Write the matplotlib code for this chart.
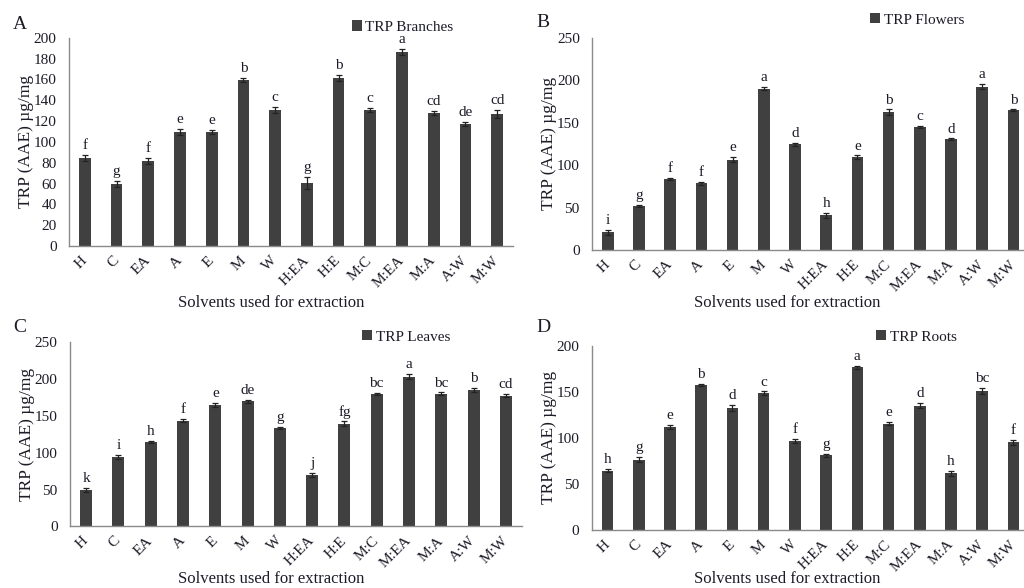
#!/usr/bin/env python3
"""
TRP (AAE) of four plant parts for the different extraction solvents
2 x 2 bar panels A-D
"""

import matplotlib.pyplot as plt
from matplotlib.transforms import ScaledTranslation
import numpy as np

plt.rcParams['font.family'] = ['Liberation Serif', 'DejaVu Serif']

# Data
solvents = ['H', 'C', 'EA', 'A', 'E', 'M', 'W', 'H:EA', 'H:E', 'M:C', 'M:EA', 'M:A', 'A:W', 'M:W']

branches = [84.5, 59.5, 81.5, 109.5, 109.5, 159.5, 130.5, 60.5, 161.5, 130.5, 186.5, 128, 117.5, 126.5]
branches_err = [3, 3, 3, 3, 2, 2, 3, 6, 3, 2, 3, 2, 2, 4]
branches_sig = ['f', 'g', 'f', 'e', 'e', 'b', 'c', 'g', 'b', 'c', 'a', 'cd', 'de', 'cd']

flowers = [21, 52, 84, 78.5, 106.5, 190, 124.5, 41, 109.5, 162.5, 145, 130.5, 192.5, 164.5]
flowers_err = [3, 1.5, 1, 2, 3, 2, 2, 3, 2, 3, 1, 1, 3, 1]
flowers_sig = ['i', 'g', 'f', 'f', 'e', 'a', 'd', 'h', 'e', 'b', 'c', 'd', 'a', 'b']

leaves = [49, 94, 114.5, 143.5, 164.5, 170, 133.5, 70, 139.5, 180, 203.5, 180, 185, 177.5]
leaves_err = [3, 3, 2, 2, 3, 2, 1.5, 3, 3, 1, 4, 2, 3, 2]
leaves_sig = ['k', 'i', 'h', 'f', 'e', 'de', 'g', 'j', 'fg', 'bc', 'a', 'bc', 'b', 'cd']

roots = [64.5, 76.5, 112, 157.5, 132.5, 148.5, 96.5, 81, 176.5, 115.5, 135, 61.5, 151, 95]
roots_err = [2, 2.5, 2, 1, 3, 2, 2, 1.5, 2, 1.5, 3, 2.5, 3, 2.5]
roots_sig = ['h', 'g', 'e', 'b', 'd', 'c', 'f', 'g', 'a', 'e', 'd', 'h', 'bc', 'f']

BAR = '#404040'
TXT = '#1c1c28'
SPINE = '#8a8a8a'

fig = plt.figure(figsize=(10.24, 5.88), dpi=100)
fig.patch.set_facecolor('white')

# (axes rect, values, errors, letters, legend label, ymax, ystep,
#  panel letter pos, legend pos, xlabel centre, panel letter)
panels = [
    ([0.0674, 0.5816, 0.4336, 0.3543], branches, branches_err, branches_sig, 'TRP Branches',
     200, 20, (0.013, 0.958), (0.336, 0.954), (0.265, 0.4847), 'A'),
    ([0.5784, 0.5748, 0.4265, 0.3611], flowers, flowers_err, flowers_sig, 'TRP Flowers',
     250, 50, (0.524, 0.962), (0.842, 0.966), (0.769, 0.4847), 'B'),
    ([0.0684, 0.1049, 0.4414, 0.3130], leaves, leaves_err, leaves_sig, 'TRP Leaves',
     250, 50, (0.013, 0.443), (0.346, 0.427), (0.265, 0.0153), 'C'),
    ([0.5781, 0.0986, 0.4268, 0.3135], roots, roots_err, roots_sig, 'TRP Roots',
     200, 50, (0.524, 0.443), (0.848, 0.427), (0.769, 0.0153), 'D'),
]

x = np.arange(len(solvents))
shift = ScaledTranslation(3 / 100, 0, fig.dpi_scale_trans)

for rect, vals, errs, sig, label, ymax, ystep, lpos, legpos, xlpos, letter in panels:
    ax = fig.add_axes(rect)
    ax.bar(x, vals, width=0.37, color=BAR, label=label, zorder=2)
    ax.errorbar(x, vals, yerr=errs, fmt='none', ecolor='#222222', elinewidth=0.9,
                capsize=2.5, capthick=0.9, zorder=3)

    # significance letters
    for xi, v, e, s in zip(x, vals, errs, sig):
        ax.annotate(s, (xi, v + e), xytext=(0, 2), textcoords='offset points',
                    ha='center', va='bottom', fontsize=11, color=TXT)

    ax.set_xlim(-0.5, len(solvents) - 0.5)
    ax.set_ylim(0, ymax)
    ax.set_yticks(np.arange(0, ymax + 1, ystep))
    ax.set_xticks(x)
    ax.set_xticklabels(solvents, rotation=45, ha='right', va='center',
                       rotation_mode='anchor', fontsize=11, color=TXT)
    for lbl in ax.get_xticklabels():
        lbl.set_transform(lbl.get_transform() + shift)
    ax.tick_params(axis='x', length=0, pad=9)
    ax.tick_params(axis='y', length=0, pad=9, labelsize=11, labelcolor=TXT)
    ax.set_ylabel('TRP (AAE) µg/mg', fontsize=12.5, color=TXT, labelpad=0)

    for side in ['top', 'right']:
        ax.spines[side].set_visible(False)
    for side in ['left', 'bottom']:
        ax.spines[side].set_color(SPINE)
        ax.spines[side].set_linewidth(1.0)

    ax.legend(loc='center left', bbox_to_anchor=legpos, bbox_transform=fig.transFigure,
              frameon=False, fontsize=11, handlelength=0.65, handleheight=0.65,
              handletextpad=0.25, borderpad=0, labelcolor=TXT)

    fig.text(lpos[0], lpos[1], letter, fontsize=14, color=TXT, ha='left', va='center')
    fig.text(xlpos[0], xlpos[1], 'Solvents used for extraction', fontsize=12,
             color=TXT, ha='center', va='center')

plt.savefig('out.png', dpi=100, facecolor='white')
